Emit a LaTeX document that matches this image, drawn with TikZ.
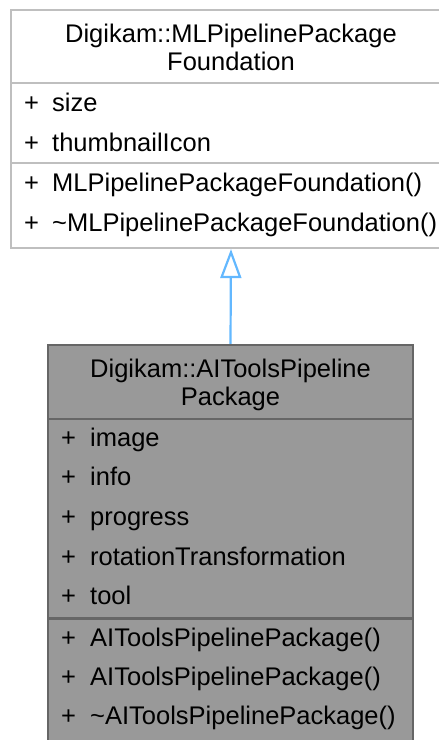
\documentclass[tikz,border=0pt]{standalone}
\usepackage{fontspec}
\setmainfont{Liberation Sans}
\usetikzlibrary{arrows.meta}
\definecolor{baseborder}{HTML}{BFBFBF}
\definecolor{derfill}{HTML}{999999}
\definecolor{derborder}{HTML}{666666}
\definecolor{inhcolor}{HTML}{63B8FF}
\begin{document}
\begin{tikzpicture}[x=1pt,y=-1pt,
  txt/.style={font=\fontsize{25.5}{30}\selectfont, inner sep=0pt, anchor=base west, text=black},
  hdr/.style={font=\fontsize{25.5}{30}\selectfont, inner sep=0pt, anchor=base, text=black},
  basebox/.style={draw=baseborder, fill=white, line width=2.2pt, inner sep=0pt},
  derbox/.style={draw=derborder, fill=derfill, line width=2.2pt, inner sep=0pt},
  basesep/.style={draw=baseborder, line width=2.2pt},
  dersep/.style={draw=derborder, line width=2.2pt},
  inherit/.style={draw=inhcolor, line width=2.2pt, -{Triangle[open, length=29pt, width=21pt, line width=2.2pt]}}
]
\useasboundingbox (0,0) rectangle (439,740);
\clip (0,0) rectangle (439,740);

% base class
\node[basebox, minimum width=440pt, minimum height=238pt] (base) at (231,129) {};
\draw[basesep] (11,83) -- (451,83);
\draw[basesep] (11,163) -- (451,163);
\node[hdr] (bh1) at (231,42) {Digikam::MLPipelinePackage};
\node[hdr] (bh2) at (231,70.5) {Foundation};
\node[txt] (bp1) at (24,111) {+};
\node[txt] (ba1) at (52,111) {size};
\node[txt] (bp2) at (24,151) {+};
\node[txt] (ba2) at (52,151) {thumbnailIcon};
\node[txt] (bp3) at (24,191) {+};
\node[txt] (bm1) at (52,191) {MLPipelinePackageFoundation()};
\node[txt] (bp4) at (24,231) {+};
\node[txt] (bm2) at (52,231) {\textasciitilde MLPipelinePackageFoundation()};

% derived class
\node[derbox, minimum width=365pt, minimum height=410pt] (der) at (230.5,550) {};
\draw[dersep] (48,419) -- (413,419);
\draw[dersep] (48,618.5) -- (413,618.5);
\node[hdr] (dh1) at (230.5,377) {Digikam::AIToolsPipeline};
\node[hdr] (dh2) at (230.5,405.5) {Package};
\node[txt] (dp1) at (61,446) {+};
\node[txt] (da1) at (90,446) {image};
\node[txt] (dp2) at (61,485.5) {+};
\node[txt] (da2) at (90,485.5) {info};
\node[txt] (dp3) at (61,525.5) {+};
\node[txt] (da3) at (90,525.5) {progress};
\node[txt] (dp4) at (61,565) {+};
\node[txt] (da4) at (90,565) {rotationTransformation};
\node[txt] (dp5) at (61,604.5) {+};
\node[txt] (da5) at (90,604.5) {tool};
\node[txt] (dp6) at (61,646) {+};
\node[txt] (dm1) at (90,646) {AIToolsPipelinePackage()};
\node[txt] (dp7) at (61,685) {+};
\node[txt] (dm2) at (90,685) {AIToolsPipelinePackage()};
\node[txt] (dp8) at (61,724) {+};
\node[txt] (dm3) at (90,724) {\textasciitilde AIToolsPipelinePackage()};

% inheritance
\draw[inherit] (der.north) -- (base.south);
\end{tikzpicture}
\end{document}
